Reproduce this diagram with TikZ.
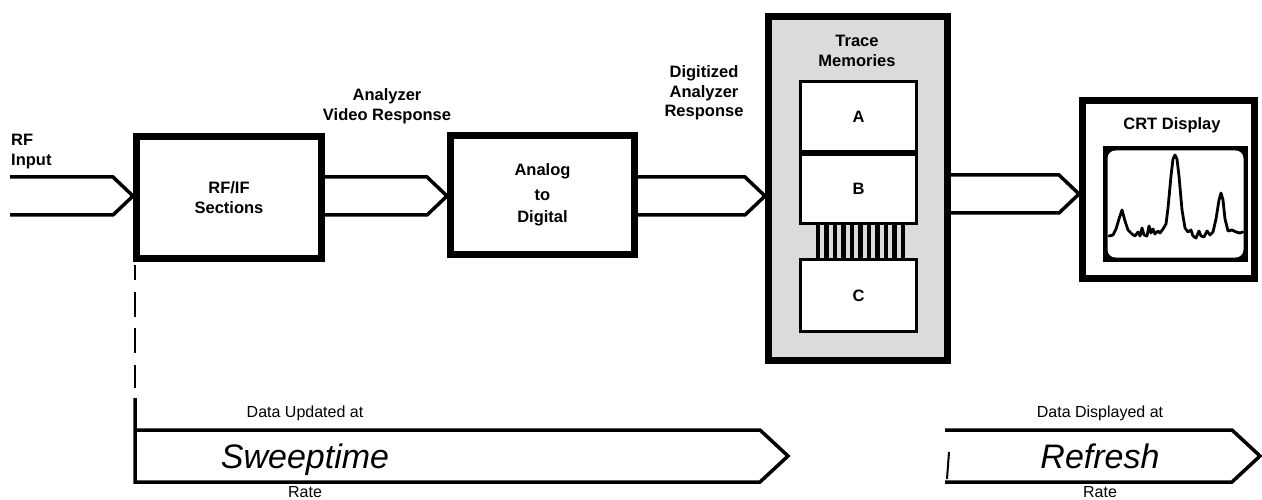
\documentclass[tikz,border=0pt]{standalone}
\usepackage{fontspec}
\setmainfont{Liberation Sans}
\usetikzlibrary{calc}
\newcommand\lblfont{\bfseries\fontsize{16.5}{19.5}\selectfont}
\newcommand\botfont{\fontsize{16}{19}\selectfont}
\newcommand\bigfont{\itshape\fontsize{34}{40}\selectfont}
\newcommand\pipe[3]{\draw[pipeline] let \p1=(#1), \p2=($(#2)+(0,#3)$) in
  (\x1,\y2+19pt) -- (\x2-20pt,\y2+19pt) -- (\p2) -- (\x2-20pt,\y2-19pt) -- (\x1,\y2-19pt);}
\begin{document}
\begin{tikzpicture}[x=1pt,y=-1pt,
  bigbox/.style={draw, line width=7pt, fill=white, inner sep=0pt, font=\lblfont, align=center},
  membox/.style={draw, line width=3pt, fill=white, inner sep=0pt, minimum width=116pt, font=\lblfont},
  lbl/.style={font=\lblfont, align=center, inner sep=0pt},
  botlbl/.style={font=\botfont, inner sep=0pt, anchor=base},
  biglbl/.style={font=\bigfont, inner sep=0pt, anchor=base},
  pipeline/.style={line width=3.5pt, line join=miter},
  bus/.style={line width=4.5pt},
  trace/.style={line width=2.8pt, line join=round, line cap=round}]
\useasboundingbox (0,0) rectangle (1262,500);

% boxes
\node[bigbox, minimum width=185pt, minimum height=122pt] (rfif) at (229,197.5) {RF/IF\\Sections};
\node[bigbox, minimum width=184pt, minimum height=119pt] (ad) at (542.5,195) {Analog\\[5pt]to\\[3pt]Digital};
\node[draw, line width=7pt, fill=black!14, inner sep=0pt, minimum width=179pt, minimum height=344pt] (trace) at (858,188.5) {};
\node[bigbox, minimum width=172pt, minimum height=178pt] (crt) at (1168.5,189.5) {};

% trace memories
\node[lbl] (tmlbl) at (857,51) {Trace\\Memories};
\node[membox, minimum height=70pt] (memA) at (858.5,116.5) {A};
\node[membox, minimum height=69pt] (memB) at (858.5,189) {B};
\node[membox, minimum height=72pt] (memC) at (858.5,295.5) {C};
\foreach \i in {0,...,10}
  \draw[bus] ($(memB.south west)+(19+8.5*\i,0)$) -- ($(memC.north west)+(19+8.5*\i,0)$);

% CRT display
\node[lbl] (crtlbl) at (1172,125) {CRT Display};
\fill (1103,146) rectangle (1248,262);
\fill[white, rounded corners=8pt] (1107.5,150.5) rectangle (1243.5,257.5);
\draw[trace] (1109,236) -- (1113,235) -- (1116,229) -- (1119,219) -- (1122,210) -- (1125,221) -- (1128,230)
  -- (1132,234) -- (1135,236) -- (1138,232) -- (1140,236) -- (1142,228) -- (1144,235) -- (1147,236)
  -- (1149,226) -- (1151,233) -- (1153,229) -- (1155,234) -- (1158,231) -- (1160,233) -- (1163,229)
  -- (1166,224) -- (1168,208) -- (1171,176) -- (1173,159) -- (1175,155) -- (1177,159) -- (1179,176)
  -- (1182,210) -- (1185,228) -- (1188,232) -- (1191,230) -- (1193,236) -- (1196,238) -- (1199,231)
  -- (1201,236) -- (1204,237) -- (1207,231) -- (1210,235) -- (1213,232) -- (1216,219) -- (1219,200)
  -- (1221,193) -- (1223,200) -- (1225,219) -- (1228,231) -- (1232,230) -- (1236,232) -- (1240,233) -- (1243,232);

% labels
\node[lbl, align=left, anchor=north west] (rflbl) at (11,134) {RF\\Input};
\node[lbl] (avr) at (387,106) {Analyzer\\Video Response};
\node[lbl] (dar) at (704,93) {Digitized\\Analyzer\\Response};

% pipes
\coordinate (rfin) at (10,196);
\pipe{rfin}{rfif.west}{-1.5}
\pipe{rfif.east}{ad.west}{1}
\pipe{ad.east}{trace.west}{7.5}
\pipe{trace.east}{crt.west}{4.5}

% sweeptime
\coordinate (sweeptop) at (135,398);
\draw[line width=2.5pt, dash pattern=on 0pt off 3pt on 15pt off 12pt on 25pt off 11pt on 25pt off 12pt on 23pt off 10pt]
  ($(rfif.south west)+(2,0)$) -- (sweeptop);
\draw[pipeline] (sweeptop) -- (135,482) -- (760,482) -- (788,456) -- (760,430) -- (135,430);
\node[botlbl] (dua) at (305,417) {Data Updated at};
\node[biglbl] (sweep) at (305,468) {Sweeptime};
\node[botlbl] (rate1) at (305,497) {Rate};

% refresh
\draw[pipeline] (945,430) -- (1232,430) -- (1260,456) -- (1232,482) -- (945,482);
\draw[line width=2pt] (949,452) -- (947,479);
\node[botlbl] (dda) at (1100,417) {Data Displayed at};
\node[biglbl] (refresh) at (1100,468) {Refresh};
\node[botlbl] (rate2) at (1100,497) {Rate};
\end{tikzpicture}
\end{document}
